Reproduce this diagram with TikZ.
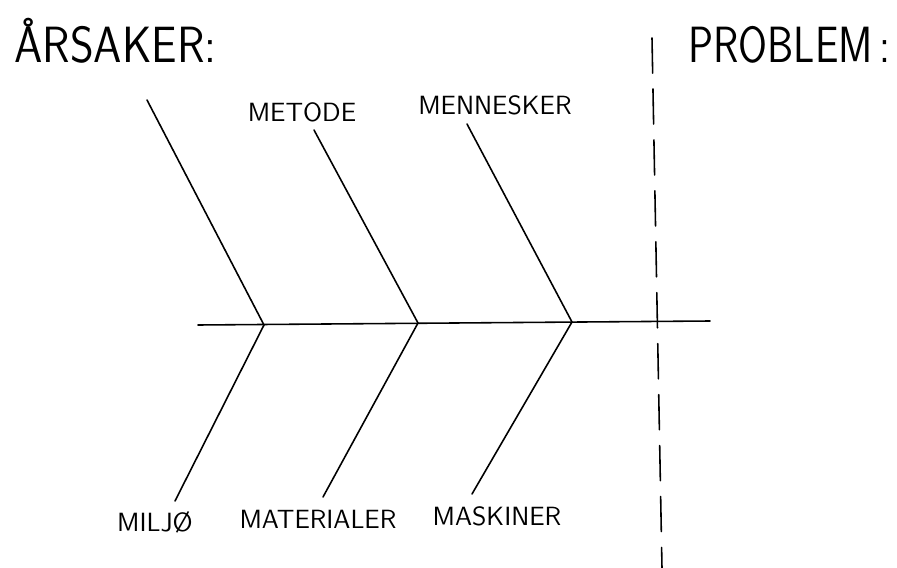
\documentclass[tikz,border=0pt]{standalone}
\usepackage{tikz}
\usetikzlibrary{positioning}

\begin{document}
\begin{tikzpicture}[x=0.02cm,y=-0.02cm,line cap=round,line join=round,
    bone/.style={line width=0.9pt},
    causelabel/.style={font=\sffamily\fontsize{15}{15}\selectfont,inner sep=0pt},
    heading/.style={font=\sffamily\fontsize{29}{29}\selectfont,inner sep=0pt,anchor=base west}]
\useasboundingbox (0,0) rectangle (897,568);
% Headings
\node[heading,xscale=0.89] (arsaker) at (14,62) {ÅRSAKER:};
\node[heading,xscale=0.82] (problem) at (688,62) {PROBLEM\,:};

% Spine
\coordinate (tail) at (198,325);
\coordinate (head) at (710,321);
\coordinate (j1) at (264,325);
\coordinate (j2) at (418,323);
\coordinate (j3) at (572,322);
\draw[bone] (tail) -- (head);

% Upper causes
\node[causelabel] (metode) at (302,112) {METODE};
\node[causelabel] (mennesker) at (495,105) {MENNESKER};
\coordinate (u1) at (147,100);
\coordinate (u2) at (314,130);
\coordinate (u3) at (467,124);
\draw[bone] (u1) -- (j1);
\draw[bone] (u2) -- (j2);
\draw[bone] (u3) -- (j3);

% Lower causes
\node[causelabel] (miljo) at (155,522) {MILJØ};
\node[causelabel] (materialer) at (318,519) {MATERIALER};
\node[causelabel] (maskiner) at (497,516) {MASKINER};
\coordinate (l1) at (175,501);
\coordinate (l2) at (323,497);
\coordinate (l3) at (472,494);
\draw[bone] (j1) -- (l1);
\draw[bone] (j2) -- (l2);
\draw[bone] (j3) -- (l3);

% Divider
\coordinate (divtop) at (652,38);
\coordinate (divbot) at (662,568);
\draw[bone,dash pattern=on 20pt off 9pt] (divtop) -- (divbot);
\end{tikzpicture}
\end{document}
